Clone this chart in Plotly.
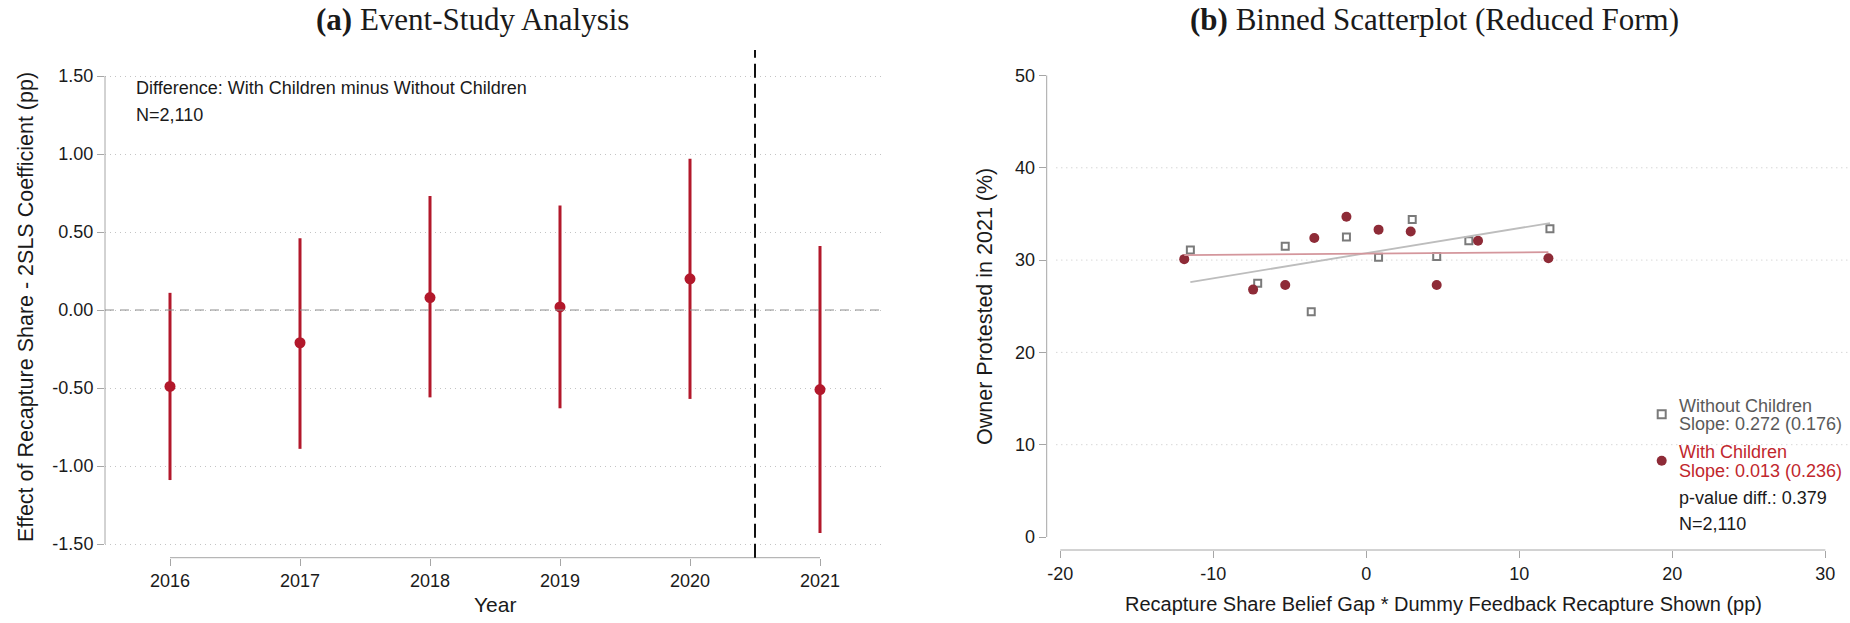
import numpy as np
import plotly.graph_objects as go

# ---------------- data ----------------
# (a) event-study: 2SLS coefficient (difference, with minus without children) and 95% CI
years = [2016, 2017, 2018, 2019, 2020, 2021]
coef = [-0.49, -0.21, 0.08, 0.02, 0.20, -0.51]
ci_lo = [-1.09, -0.89, -0.56, -0.63, -0.57, -1.43]
ci_hi = [0.11, 0.46, 0.73, 0.67, 0.97, 0.41]
ytick_vals_a = [1.5, 1.0, 0.5, 0.0, -0.5, -1.0, -1.5]
ytick_text_a = ["1.50", "1.00", "0.50", "0.00", "-0.50", "-1.00", "-1.50"]

# (b) binned scatter: owner protested in 2021 (%) by belief-gap bin
x_without = [-11.5, -7.1, -5.3, -3.6, -1.3, 0.8, 3.0, 4.6, 6.7, 12.0]
y_without = [31.1, 27.5, 31.5, 24.4, 32.5, 30.3, 34.4, 30.4, 32.1, 33.4]
x_with = [-11.9, -7.4, -5.3, -3.4, -1.3, 0.8, 2.9, 4.6, 7.3, 11.9]
y_with = [30.1, 26.8, 27.3, 32.4, 34.7, 33.3, 33.1, 27.3, 32.1, 30.2]
slope_without, se_without, icpt_without = 0.272, 0.176, 30.75
slope_with, se_with, icpt_with = 0.013, 0.236, 30.70
pval_diff = 0.379
n_obs = "2,110"
xtick_vals_b = [-20, -10, 0, 10, 20, 30]
ytick_vals_b = [0, 10, 20, 30, 40, 50]

# ---------------- style ----------------
W, H = 1850, 623
SANS = "Liberation Sans Narrow, Arial Narrow, Liberation Sans, Arial, sans-serif"
SERIF = "Liberation Serif, Times New Roman, serif"
RED = "#b2182b"
MAROON = "#8e2b37"
GREY_MK = "#7a7a7a"
AXIS_C = "#a6a6a6"
GRID_C = "#c4c4c4"
TXT = "#1a1a1a"
FS = 18

# subplot placement in pixels
A_X0, A_X1, A_Y0, A_Y1 = 105, 885, 50, 557.7
B_X0, B_X1, B_Y0, B_Y1 = 1046.7, 1848, 50, 550
A_XR = [2015.5, 2021.5]
A_YR = [-1.5878, 1.6667]
B_XR = [-20.889, 31.48]
B_YR = [-1.408, 52.76]


def px(x):
    return x / W


def py(y):
    return 1 - y / H


def data_to_paper_x(v, rng, x0, x1):
    return px(x0 + (v - rng[0]) / (rng[1] - rng[0]) * (x1 - x0))


def data_to_paper_y(v, rng, y0, y1):
    # y0 = top pixel, y1 = bottom pixel
    return py(y1 - (v - rng[0]) / (rng[1] - rng[0]) * (y1 - y0))


fig = go.Figure()

# ---------- panel (a) ----------
err_plus = [h - c for h, c in zip(ci_hi, coef)]
err_minus = [c - l for c, l in zip(coef, ci_lo)]
fig.add_trace(go.Scatter(
    x=years, y=coef, mode="markers",
    marker=dict(color=RED, size=11),
    error_y=dict(type="data", array=err_plus, arrayminus=err_minus,
                 color=RED, thickness=3, width=0),
    xaxis="x", yaxis="y", showlegend=False,
))

# ---------- panel (b) ----------
fig.add_trace(go.Scatter(
    x=x_without, y=y_without, mode="markers",
    marker=dict(symbol="square", size=7, color="white",
                line=dict(color=GREY_MK, width=2)),
    xaxis="x2", yaxis="y2", showlegend=False,
))
fig.add_trace(go.Scatter(
    x=x_with, y=y_with, mode="markers",
    marker=dict(symbol="circle", size=10, color=MAROON),
    xaxis="x2", yaxis="y2", showlegend=False,
))
fx_wo = np.array([min(x_without), max(x_without)])
fig.add_trace(go.Scatter(
    x=fx_wo, y=icpt_without + slope_without * fx_wo, mode="lines",
    line=dict(color="#bdbdbd", width=1.8),
    xaxis="x2", yaxis="y2", showlegend=False,
))
fx_w = np.array([min(x_with), max(x_with)])
fig.add_trace(go.Scatter(
    x=fx_w, y=icpt_with + slope_with * fx_w, mode="lines",
    line=dict(color="#d4969c", width=1.8),
    xaxis="x2", yaxis="y2", showlegend=False,
))

tickfont = dict(family=SANS, size=FS, color=TXT)
common_axis = dict(showline=False, zeroline=False, ticks="outside", ticklen=7,
                   tickwidth=1, tickcolor=AXIS_C, tickfont=tickfont)

fig.update_layout(
    width=W, height=H,
    margin=dict(l=0, r=0, t=0, b=0),
    paper_bgcolor="white", plot_bgcolor="white",
    xaxis=dict(domain=[px(A_X0), px(A_X1)], range=A_XR, anchor="y",
               tickvals=years, ticktext=[str(y) for y in years],
               showgrid=False, **common_axis),
    yaxis=dict(domain=[py(A_Y1), py(A_Y0)], range=A_YR, anchor="x",
               tickvals=ytick_vals_a, ticktext=ytick_text_a,
               showgrid=True, gridcolor=GRID_C, gridwidth=1, griddash="1px,4px",
               **common_axis),
    xaxis2=dict(domain=[px(B_X0), px(B_X1)], range=B_XR, anchor="y2",
                tickvals=xtick_vals_b, ticktext=[str(v) for v in xtick_vals_b],
                showgrid=False, **common_axis),
    yaxis2=dict(domain=[py(B_Y1), py(B_Y0)], range=B_YR, anchor="x2",
                tickvals=ytick_vals_b, ticktext=[str(v) for v in ytick_vals_b],
                showgrid=False, **common_axis),
)

shapes = []
# axis lines (span first to last tick)
shapes.append(dict(type="line", xref="paper", yref="paper",
                   x0=px(A_X0), x1=px(A_X0),
                   y0=data_to_paper_y(ytick_vals_a[0], A_YR, A_Y0, A_Y1),
                   y1=data_to_paper_y(ytick_vals_a[-1], A_YR, A_Y0, A_Y1),
                   line=dict(color=AXIS_C, width=1)))
shapes.append(dict(type="line", xref="paper", yref="paper",
                   x0=data_to_paper_x(years[0], A_XR, A_X0, A_X1),
                   x1=data_to_paper_x(years[-1], A_XR, A_X0, A_X1),
                   y0=py(A_Y1), y1=py(A_Y1),
                   line=dict(color=AXIS_C, width=1)))
shapes.append(dict(type="line", xref="paper", yref="paper",
                   x0=px(B_X0), x1=px(B_X0),
                   y0=data_to_paper_y(ytick_vals_b[0], B_YR, B_Y0, B_Y1),
                   y1=data_to_paper_y(ytick_vals_b[-1], B_YR, B_Y0, B_Y1),
                   line=dict(color=AXIS_C, width=1)))
shapes.append(dict(type="line", xref="paper", yref="paper",
                   x0=data_to_paper_x(xtick_vals_b[0], B_XR, B_X0, B_X1),
                   x1=data_to_paper_x(xtick_vals_b[-1], B_XR, B_X0, B_X1),
                   y0=py(B_Y1), y1=py(B_Y1),
                   line=dict(color=AXIS_C, width=1)))
# zero reference line and treatment-year divider in (a)
shapes.append(dict(type="line", xref="x domain", yref="y", x0=0, x1=1, y0=0, y1=0,
                   line=dict(color="#8c8c8c", width=1, dash="9px,6px")))
shapes.append(dict(type="line", xref="x", yref="y domain", x0=2020.5, x1=2020.5,
                   y0=0, y1=1, line=dict(color="#111111", width=2, dash="14px,6px")))
# dotted grid in (b)
for g in ytick_vals_b[1:-1]:
    shapes.append(dict(type="line", xref="x2 domain", yref="y2", x0=0.012, x1=1,
                       y0=g, y1=g, layer="below",
                       line=dict(color=GRID_C, width=1, dash="1px,4px")))

# legend keys in (b)
LX, LY1, LY2 = 1661.7, 414.3, 460.7
shapes.append(dict(type="rect", xref="paper", yref="paper",
                   x0=px(LX - 4), x1=px(LX + 4), y0=py(LY1 + 4), y1=py(LY1 - 4),
                   line=dict(color=GREY_MK, width=2), fillcolor="white"))
shapes.append(dict(type="circle", xref="paper", yref="paper",
                   x0=px(LX - 5), x1=px(LX + 5), y0=py(LY2 + 5), y1=py(LY2 - 5),
                   line=dict(color=MAROON, width=0), fillcolor=MAROON))
fig.update_layout(shapes=shapes)

ann = []


def text(x, y, s, size=FS, color=TXT, family=SANS, xanchor="left", angle=0):
    ann.append(dict(x=px(x), y=py(y), xref="paper", yref="paper", text=s,
                    showarrow=False, xanchor=xanchor, yanchor="middle",
                    textangle=angle, font=dict(family=family, size=size, color=color)))


# panel titles
text(472, 20, "<b>(a)</b> Event-Study Analysis", size=31, family=SERIF, xanchor="center")
text(1434, 20, "<b>(b)</b> Binned Scatterplot (Reduced Form)", size=31, family=SERIF,
     xanchor="center")
# axis titles
text(26, 307, "Effect of Recapture Share - 2SLS Coefficient (pp)", size=21.5,
     xanchor="center", angle=-90)
text(495, 604, "Year", size=21, xanchor="center")
text(985, 307, "Owner Protested in 2021 (%)", size=21.5, xanchor="center", angle=-90)
text(1443, 604, "Recapture Share Belief Gap * Dummy Feedback Recapture Shown (pp)",
     size=20, xanchor="center")
# notes in (a)
text(134, 88, "Difference: With Children minus Without Children")
text(134, 115, f"N={n_obs}")
# legend text in (b)
text(1677, 405.5, "Without Children", color="#5a5a5a")
text(1677, 424, f"Slope: {slope_without:.3f} ({se_without:.3f})", color="#5a5a5a")
text(1677, 452, "With Children", color="#c1272d")
text(1677, 470.5, f"Slope: {slope_with:.3f} ({se_with:.3f})", color="#c1272d")
text(1677, 497.5, f"p-value diff.: {pval_diff:.3f}")
text(1677, 524, f"N={n_obs}")

fig.update_layout(annotations=ann)
fig.write_html("out.html")
